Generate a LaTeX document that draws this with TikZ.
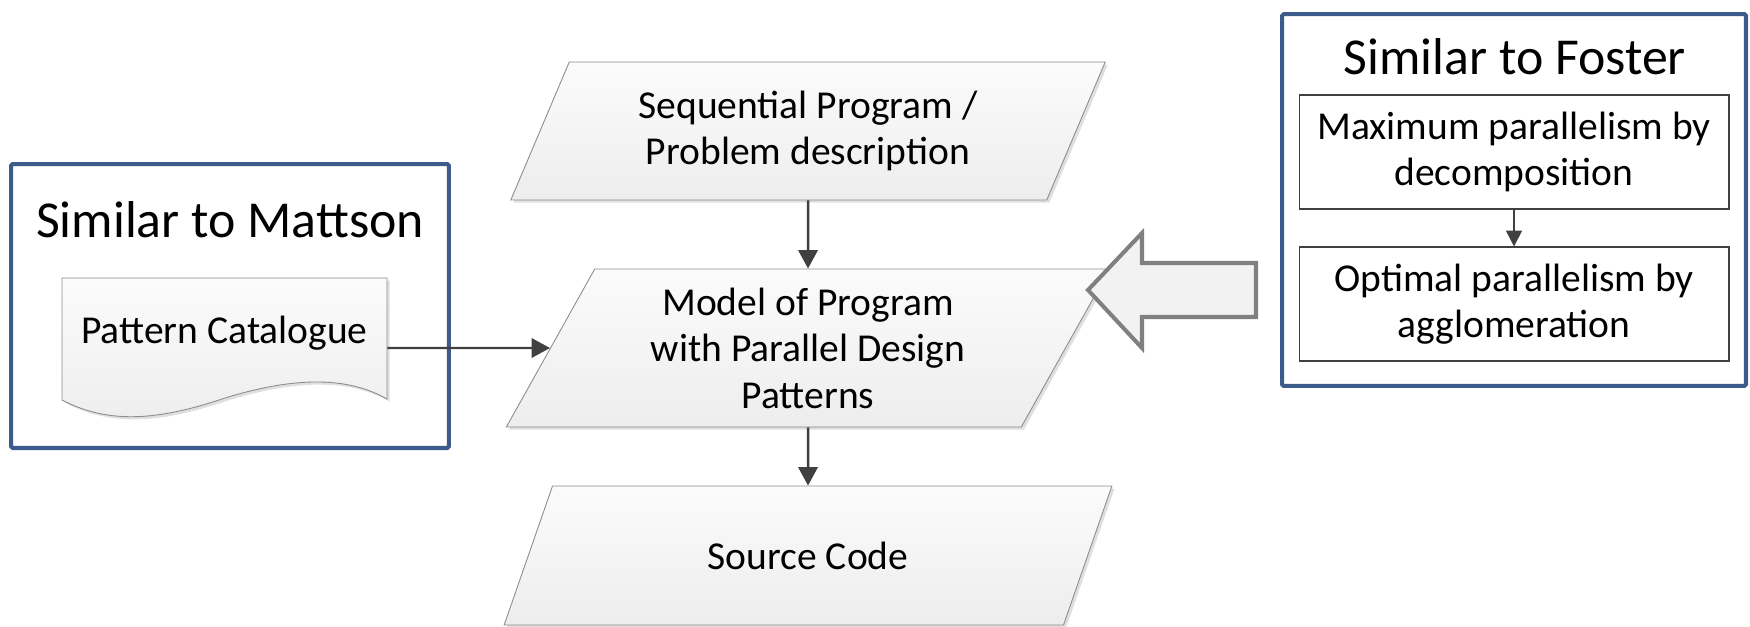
\documentclass[tikz,border=0pt]{standalone}
\usepackage{fontspec}
\setmainfont{Carlito}
\usetikzlibrary{shapes.geometric,arrows.meta,shadows}
\definecolor{grpblue}{RGB}{60,90,138}
\definecolor{arrgray}{RGB}{64,64,64}
\definecolor{bigarr}{RGB}{128,128,128}
\begin{document}
\begin{tikzpicture}[x=0.02cm, y=-0.02cm,
  grp/.style={draw=grpblue, line width=2.3pt, rounded corners=1pt},
  ttl/.style={font=\fontsize{29.5}{35}\selectfont},
  txt/.style={font=\fontsize{22.5}{26.5}\selectfont, align=center},
  io/.style={txt, trapezium, trapezium stretches=true, draw=gray!90, line width=0.5pt,
    top color=gray!3, bottom color=gray!14,
    drop shadow={shadow xshift=1.5pt, shadow yshift=-1.5pt, opacity=0.25, fill=gray}},
  box/.style={txt, draw=black!75, line width=0.6pt, fill=white, minimum width=8.6cm, minimum height=2.28cm},
  arr/.style={draw=arrgray, line width=1.4pt, -{Triangle[length=10.5pt,width=11pt]}}]
\useasboundingbox (0,0) rectangle (1750,626);
% left group
\node[grp, minimum width=8.76cm, minimum height=5.68cm] (mattson) at (230,306) {};
\node[ttl] (mattsonttl) at (230,220) {Similar to Mattson};
\fill[gray, opacity=0.25, xshift=1.5pt, yshift=-1.5pt] (62,278) -- (387,278) -- (387,399)
  .. controls (350,378) and (300,375) .. (225,398) .. controls (160,420) and (110,425) .. (62,400) -- cycle;
\draw[gray!90, line width=0.5pt, top color=gray!3, bottom color=gray!14] (62,278) -- (387,278) -- (387,399)
  .. controls (350,378) and (300,375) .. (225,398) .. controls (160,420) and (110,425) .. (62,400) -- cycle;
\node[txt, minimum width=6.5cm, minimum height=2.8cm, text height=14.1pt, text depth=19.8pt] (cat) at (224.5,348) {Pattern Catalogue};
% main flow
\node[io, trapezium left angle=65, trapezium right angle=115, minimum width=11.92cm, minimum height=2.76cm] (seq) at (808,131) {Sequential Program /\\Problem description};
\node[io, trapezium left angle=63, trapezium right angle=117, minimum width=12.1cm, minimum height=3.16cm] (model) at (808,348) {Model of Program\\with Parallel Design\\Patterns};
\node[io, trapezium left angle=63, trapezium right angle=117, minimum width=12.18cm, minimum height=2.78cm] (src) at (808,555.5) {Source Code};
\draw[arr] (seq) -- (model);
\draw[arr] (model) -- (src);
\draw[arr] (cat.east) -- (model.west);
% right group
\node[grp, minimum width=9.28cm, minimum height=7.44cm] (foster) at (1514,200) {};
\node[ttl] (fosterttl) at (1515,57) {Similar to Foster};
\node[box] (maxpar) at (1514,152) {Maximum parallelism by\\decomposition};
\node[box] (optpar) at (1514,304) {Optimal parallelism by\\agglomeration};
\draw[arr, line width=0.9pt, -{Triangle[length=9pt,width=9pt]}] (maxpar) -- (optpar);
% block arrow into the model
\draw[bigarr, line width=2.3pt, fill=gray!10, line join=miter] (1088,290) -- (1142,233) -- (1142,263) -- (1256,263)
  -- (1256,317) -- (1142,317) -- (1142,348) -- cycle;
\end{tikzpicture}
\end{document}
